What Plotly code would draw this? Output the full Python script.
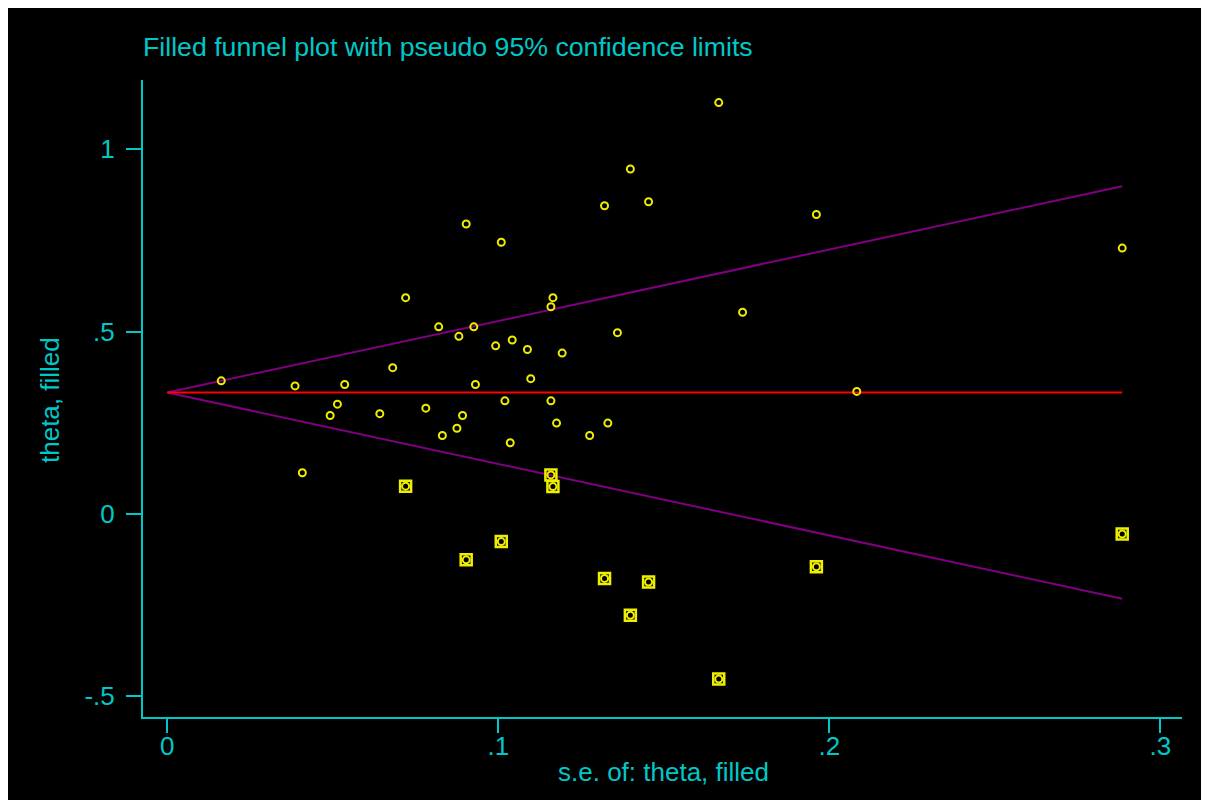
import plotly.graph_objects as go

# ---- data ----
obs_se = [0.0163, 0.0386, 0.0408, 0.0492, 0.0514, 0.0536, 0.0642, 0.0681, 0.0720, 0.0781,
          0.0820, 0.0831, 0.0875, 0.0881, 0.0892, 0.0903, 0.0926, 0.0931, 0.0992, 0.1009,
          0.1020, 0.1036, 0.1042, 0.1088, 0.1098, 0.1159, 0.1165, 0.1159, 0.1176, 0.1193,
          0.1276, 0.1321, 0.1331, 0.1360, 0.1399, 0.1454, 0.1666, 0.1738, 0.1961, 0.2083,
          0.2885]
obs_theta = [0.365, 0.351, 0.113, 0.270, 0.301, 0.355, 0.275, 0.401, 0.593, 0.290,
             0.513, 0.215, 0.235, 0.487, 0.270, 0.795, 0.513, 0.355, 0.461, 0.745,
             0.310, 0.195, 0.477, 0.451, 0.371, 0.568, 0.593, 0.310, 0.249, 0.441,
             0.215, 0.845, 0.249, 0.497, 0.946, 0.856, 1.128, 0.553, 0.821, 0.336,
             0.729]
fill_se = [0.0720, 0.0903, 0.1009, 0.1159, 0.1165, 0.1321, 0.1399, 0.1454, 0.1666, 0.1961, 0.2885]
fill_theta = [0.076, -0.126, -0.076, 0.107, 0.075, -0.177, -0.278, -0.187, -0.453, -0.145, -0.055]
pooled = 0.333
z = 1.96

x_ticks = [0, 0.1, 0.2, 0.3]
x_tick_labels = ["0", ".1", ".2", ".3"]
y_ticks = [-0.5, 0, 0.5, 1]
y_tick_labels = ["-.5", "0", ".5", "1"]

title_text = "Filled funnel plot with pseudo 95% confidence limits"
x_title = "s.e. of: theta, filled"
y_title = "theta, filled"

# ---- styles ----
CYAN = "#00c8c8"
YELLOW = "#eeee00"
PURPLE = "#800080"
RED = "#ff0000"
FONT = "Liberation Sans, Arial, sans-serif"
FS = 26

se_max = max(obs_se + fill_se)

fig = go.Figure()
fig.add_trace(go.Scatter(x=[0, se_max], y=[pooled, pooled + z * se_max], mode="lines",
                         line=dict(color=PURPLE, width=2), hoverinfo="skip"))
fig.add_trace(go.Scatter(x=[0, se_max], y=[pooled, pooled - z * se_max], mode="lines",
                         line=dict(color=PURPLE, width=2), hoverinfo="skip"))
fig.add_trace(go.Scatter(x=[0, se_max], y=[pooled, pooled], mode="lines",
                         line=dict(color=RED, width=2), hoverinfo="skip"))
fig.add_trace(go.Scatter(x=obs_se + fill_se, y=obs_theta + fill_theta, mode="markers",
                         marker=dict(symbol="circle-open", size=7, color=YELLOW,
                                     line=dict(width=2, color=YELLOW))))
fig.add_trace(go.Scatter(x=fill_se, y=fill_theta, mode="markers",
                         marker=dict(symbol="square-open", size=11, color=YELLOW,
                                     line=dict(width=2.5, color=YELLOW))))

# figure is drawn inside the page body's 8px margin
W, H = 1201, 792
L, T = 135, 72
R = W - 1174
B = H - 709
pw, ph = W - L - R, H - T - B

def px_x(p):
    return (p - L) / pw

def px_y(p):
    return (H - B - p) / ph

fig.update_layout(
    width=W, height=H,
    margin=dict(l=L, r=R, t=T, b=B, pad=0),
    paper_bgcolor="white",
    plot_bgcolor="black",
    showlegend=False,
    font=dict(family=FONT, color=CYAN),
    title=dict(text=title_text, x=0, xref="paper", xanchor="left",
               y=1 - 38.7 / H, yref="container", yanchor="middle",
               font=dict(size=26.7, color=CYAN, family=FONT)),
    shapes=[dict(type="rect", xref="paper", yref="paper",
                 x0=px_x(0), x1=px_x(1193), y0=px_y(H), y1=px_y(0),
                 fillcolor="black", line=dict(width=0), layer="below")],
    annotations=[
        dict(text=x_title, xref="paper", yref="paper", x=px_x(655), y=px_y(764),
             xanchor="center", yanchor="middle", showarrow=False,
             font=dict(size=FS, color=CYAN, family=FONT)),
        dict(text=y_title, xref="paper", yref="paper", x=px_x(42), y=px_y(392),
             xanchor="center", yanchor="middle", showarrow=False, textangle=-90,
             font=dict(size=FS, color=CYAN, family=FONT)),
    ],
    xaxis=dict(range=[-0.00734, 0.30656], tickvals=x_ticks, ticktext=x_tick_labels,
               showgrid=False, zeroline=False, showline=True, linecolor=CYAN, linewidth=2,
               ticks="outside", ticklen=14, tickwidth=2, tickcolor=CYAN,
               ticklabelstandoff=-9,
               tickfont=dict(size=FS, color=CYAN, family=FONT)),
    yaxis=dict(range=[-0.557, 1.190], tickvals=y_ticks, ticktext=y_tick_labels,
               showgrid=False, zeroline=False, showline=True, linecolor=CYAN, linewidth=2,
               ticks="outside", ticklen=15, tickwidth=2, tickcolor=CYAN,
               ticklabelstandoff=6,
               tickfont=dict(size=FS, color=CYAN, family=FONT)),
)

fig.write_html("out.html")
